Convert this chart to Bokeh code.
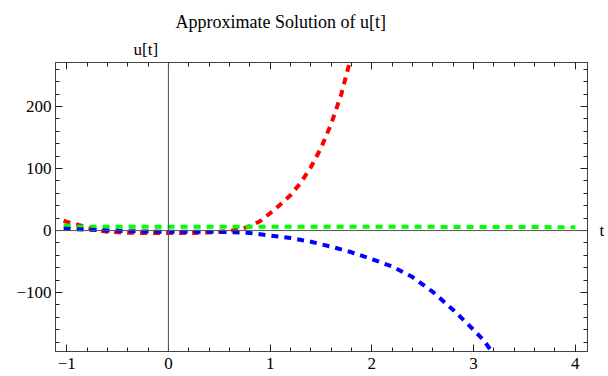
from bokeh.plotting import figure
from bokeh.models import Range1d, LinearAxis, Span, FixedTicker, Title
from bokeh.embed import file_html
from bokeh.resources import INLINE

# ---- data ----
t_red = [-1.03, -1.0, -0.9, -0.8, -0.7, -0.6, -0.4, -0.2, 0.0, 0.2, 0.4, 0.5, 0.6, 0.7,
         0.8, 0.9, 1.0, 1.1, 1.2, 1.3, 1.4, 1.5, 1.6, 1.7, 1.8]
u_red = [16, 14, 10, 5, 1, -2, -3.5, -4, -4, -4, -3, -2, -0.5, 2,
         7, 15, 28, 42, 57, 77, 102, 133, 172, 220, 283]

t_green = [-1.03, -1.0, -0.9, -0.8, -0.5, 0.0, 0.5, 1.0, 1.5, 2.0, 2.5, 3.0, 3.5, 4.0]
u_green = [8, 8, 6.5, 6, 6, 6, 6, 6, 6, 6, 6, 5.8, 5.6, 5.5]

t_blue = [-1.03, -1.0, -0.8, -0.6, -0.4, -0.2, 0.0, 0.2, 0.4, 0.6, 0.8, 1.0, 1.2, 1.4,
          1.6, 1.8, 2.0, 2.2, 2.4, 2.6, 2.8, 3.0, 3.1, 3.2]
u_blue = [3, 3, 1.5, 0, -1, -1.5, -2, -2, -2, -2.5, -4, -8, -12, -18,
          -26, -35, -46, -58, -75, -99, -128, -160, -177, -200]

x_ticks = [-1, 0, 1, 2, 3, 4]
x_tick_labels = {-1: "\u22121", 0: "0", 1: "1", 2: "2", 3: "3", 4: "4"}
y_ticks = [-100, 0, 100, 200]
y_tick_labels = {-100: "\u2212100", 0: "0", 100: "100", 200: "200"}
x_minor = [round(-1 + 0.2 * i, 2) for i in range(-1, 27)]
y_minor = [-200 + 20 * i for i in range(0, 25)]

title_text = "Approximate Solution of u[t]"
y_label = "u[t]"
x_label = "t"

FONT = "Liberation Serif"
AXFONT = "serif"

Y0, Y1 = -195, 271

p = figure(width=608, height=376, output_backend="svg", toolbar_location=None,
           x_range=Range1d(-1.11, 4.12), y_range=Range1d(Y0, Y1),
           min_border_left=55, min_border_right=21, min_border_top=62,
           min_border_bottom=25)
p.grid.visible = False
p.outline_line_color = "#444444"
p.background_fill_color = "white"
p.border_fill_color = "white"

def style_axis(ax, labels=True):
    ax.axis_line_color = "#444444"
    ax.major_tick_in = 7
    ax.major_tick_out = 0
    ax.minor_tick_in = 4
    ax.minor_tick_out = 0
    ax.major_tick_line_color = "#222222"
    ax.minor_tick_line_color = "#222222"
    ax.major_label_text_font = AXFONT
    ax.major_label_text_font_size = "17px"
    ax.major_label_text_color = "black"
    ax.major_label_standoff = 4
    if not labels:
        ax.major_label_text_alpha = 0
        ax.major_label_text_font_size = "1px"
        ax.major_label_standoff = 0

p.xaxis.ticker = FixedTicker(ticks=x_ticks, minor_ticks=x_minor)
p.yaxis.ticker = FixedTicker(ticks=y_ticks, minor_ticks=y_minor)
p.xaxis.major_label_overrides = x_tick_labels
p.yaxis.major_label_overrides = y_tick_labels
style_axis(p.xaxis[0])
style_axis(p.yaxis[0])
p.xaxis.major_label_standoff = 6

top = LinearAxis(ticker=FixedTicker(ticks=x_ticks, minor_ticks=x_minor))
right = LinearAxis(ticker=FixedTicker(ticks=y_ticks, minor_ticks=y_minor))
style_axis(top, labels=False)
style_axis(right, labels=False)
p.add_layout(top, "above")
p.add_layout(right, "right")

# axis carrying only the "t" label; two blank lines above push it down to u = 0
t_axis = LinearAxis(ticker=FixedTicker(ticks=[]),
                    axis_label="\n\n" + x_label, axis_label_orientation="horizontal",
                    axis_label_text_font=FONT, axis_label_text_font_size="17px",
                    axis_label_text_line_height=1.25,
                    axis_label_text_font_style="normal", axis_label_text_color="black",
                    axis_label_standoff=12, axis_line_color=None,
                    major_tick_in=0, major_tick_out=0, minor_tick_in=0, minor_tick_out=0,
                    major_label_text_font_size="1px", major_label_standoff=0)
p.add_layout(t_axis, "right")

# axes through the origin
p.add_layout(Span(location=0, dimension="height", line_color="#555555", line_width=1))
p.add_layout(Span(location=0, dimension="width", line_color="#555555", line_width=1))

p.line(t_red, u_red, line_color="#ff0000", line_width=4, line_dash="7 6")
p.line(t_green, u_green, line_color="#00ff00", line_width=4, line_dash="7 6")
p.line(t_blue, u_blue, line_color="#0000ff", line_width=4, line_dash="7 6")

p.title = Title(text=title_text, align="left", offset=120, text_font=FONT,
                text_font_size="18px", text_font_style="normal", text_color="black",
                standoff=4)
p.add_layout(Title(text=y_label, align="left", offset=78, text_font=FONT,
                   text_font_size="17px", text_font_style="normal", text_color="black",
                   standoff=8), "above")

open("out.html", "w").write(file_html(p, INLINE))
